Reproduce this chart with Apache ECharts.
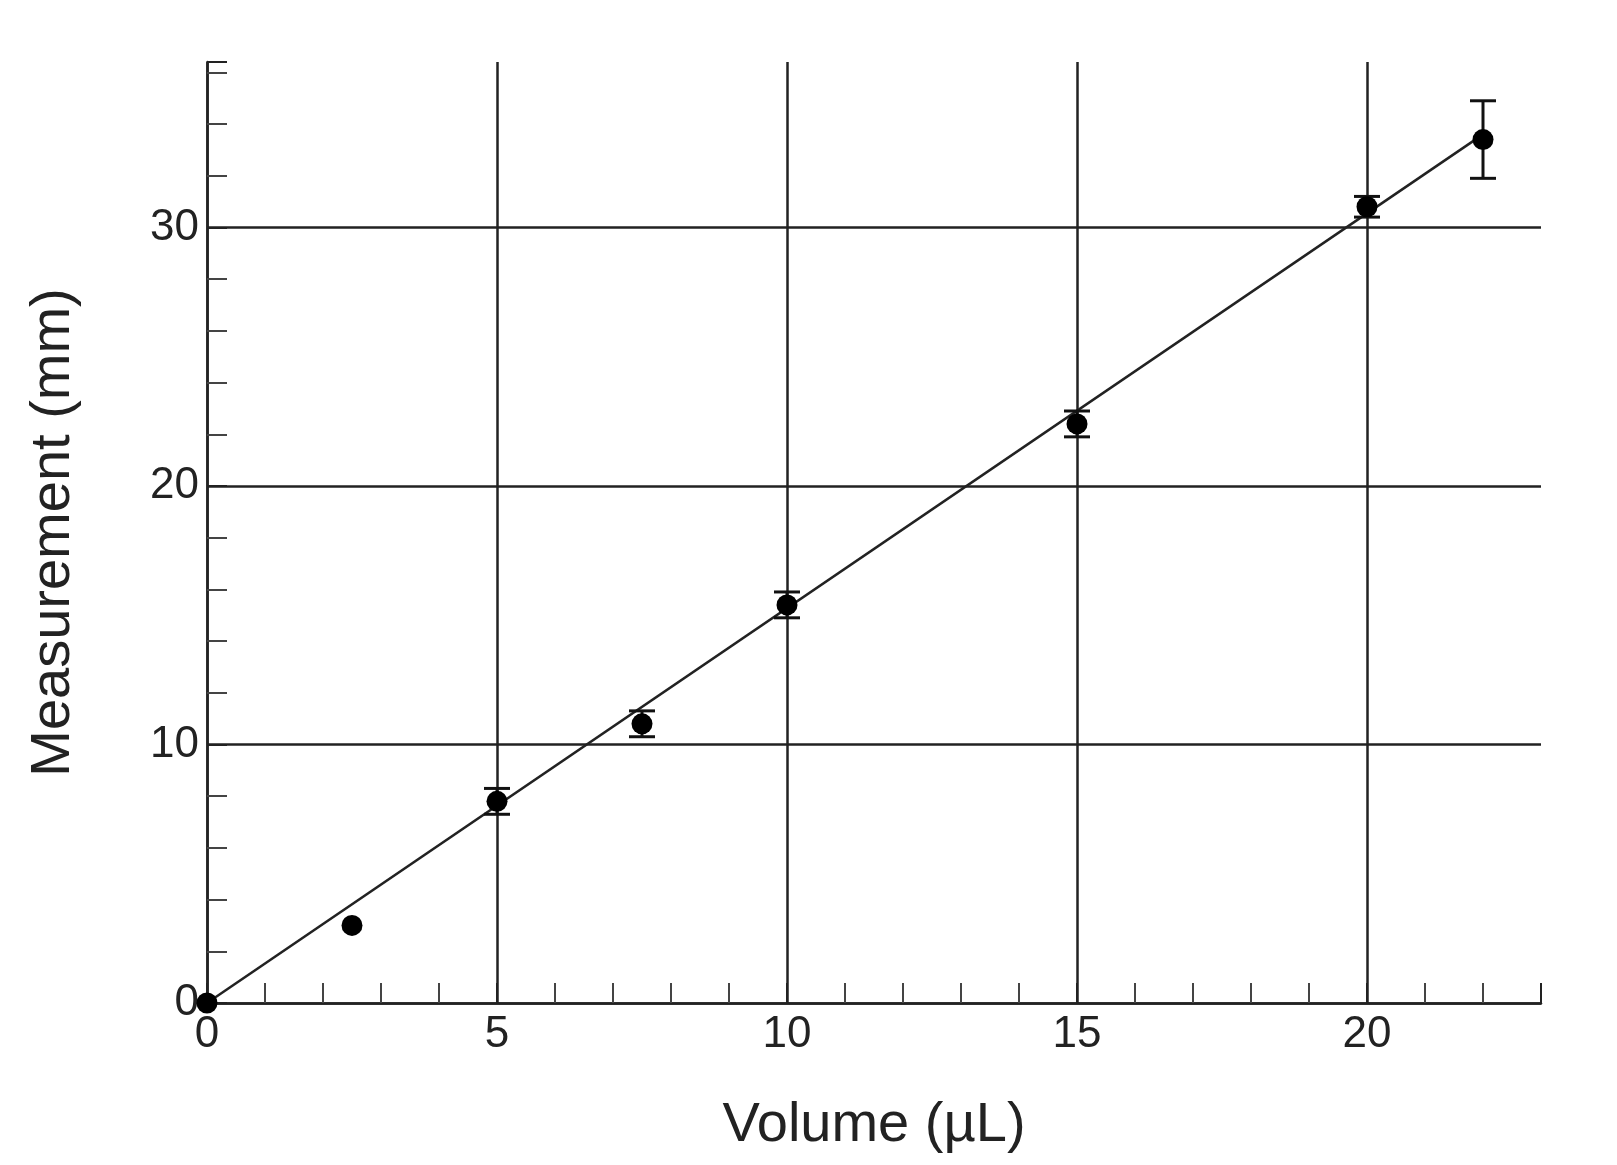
<!DOCTYPE html><html><head><meta charset="utf-8"><script src="https://cdn.jsdelivr.net/npm/echarts@6/dist/echarts.min.js"></script>
<style>html,body{margin:0;background:#fff}#c{width:1617px;height:1165px}</style></head><body><div id="c"></div><script>
const volumes=[0,2.5,5,7.5,10,15,20,22];
const measurements=[0,3.0,7.8,10.8,15.4,22.4,30.8,33.4];
const errors=[0,0,0.5,0.5,0.5,0.5,0.4,1.5];
const fitLine=[[0,0],[22,33.6]];
const xTicks=[0,5,10,15,20];
const yTicks=[0,10,20,30];
const chart=echarts.init(document.getElementById('c'));
const ax={color:'#222',fontSize:44,fontFamily:'Liberation Sans'};
chart.setOption({animation:false,
grid:{left:207,right:76,top:62,bottom:162},
xAxis:{type:'value',min:0,max:23,interval:5,name:'Volume (µL)',nameLocation:'middle',nameGap:95,
 nameTextStyle:{fontSize:56,color:'#222',fontFamily:'Liberation Sans',letterSpacing:4},
 axisLine:{lineStyle:{color:'#222',width:2.5}},axisTick:{inside:true,length:20,lineStyle:{color:'#222',width:2}},
 minorTick:{show:true,splitNumber:5,length:20,lineStyle:{color:'#444',width:2}},
 axisLabel:{...ax,margin:10,formatter:v=>xTicks.includes(v)?v:''},
 splitLine:{show:true,showMaxLine:false,lineStyle:{color:'#222',width:2.5}}},
yAxis:{type:'value',min:0,max:36.4,interval:10,name:'Measurement (mm)',nameLocation:'middle',nameGap:125,
 nameTextStyle:{fontSize:56,color:'#222',fontFamily:'Liberation Sans',letterSpacing:3},
 axisLine:{show:true,lineStyle:{color:'#222',width:2.5}},axisTick:{show:true,inside:true,length:20,lineStyle:{color:'#222',width:2}},
 minorTick:{show:true,splitNumber:5,length:20,lineStyle:{color:'#444',width:2}},
 axisLabel:{...ax,margin:8,formatter:v=>yTicks.includes(v)?v:''},
 splitLine:{show:true,showMaxLine:false,lineStyle:{color:'#222',width:2.5}}},
series:[
{type:'line',data:fitLine,symbol:'none',lineStyle:{color:'#222',width:2.5},z:3},
{type:'scatter',data:volumes.map((v,i)=>[v,measurements[i]]),symbolSize:21,itemStyle:{color:'#000',opacity:1},z:5},
{type:'custom',z:4,data:volumes.map((v,i)=>[v,measurements[i]-errors[i],measurements[i]+errors[i]]).filter(d=>d[2]>d[1]),
 renderItem:(p,api)=>{const lo=api.coord([api.value(0),api.value(1)]),hi=api.coord([api.value(0),api.value(2)]);const w=13;
  const s={stroke:'#111',lineWidth:3};
  return {type:'group',children:[
   {type:'line',shape:{x1:lo[0],y1:lo[1],x2:hi[0],y2:hi[1]},style:s},
   {type:'line',shape:{x1:lo[0]-w,y1:lo[1],x2:lo[0]+w,y2:lo[1]},style:s},
   {type:'line',shape:{x1:hi[0]-w,y1:hi[1],x2:hi[0]+w,y2:hi[1]},style:s}]};}}
]});
</script></body></html>
